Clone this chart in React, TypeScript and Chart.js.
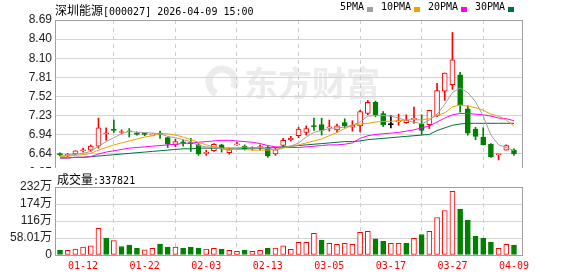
import React, { useEffect, useRef } from 'react';
import { Chart, registerables } from 'chart.js';

Chart.register(...registerables);

// ---- data ----
const dates = [
  '01-07','01-08','01-09','01-12','01-13','01-14','01-15','01-16','01-19','01-20',
  '01-21','01-22','01-23','01-26','01-27','01-28','01-29','01-30','02-02','02-03',
  '02-04','02-05','02-06','02-09','02-10','02-11','02-12','02-13','02-24','02-25',
  '02-26','02-27','03-02','03-03','03-04','03-05','03-06','03-09','03-10','03-11',
  '03-12','03-13','03-16','03-17','03-18','03-19','03-20','03-23','03-24','03-25',
  '03-26','03-27','03-30','03-31','04-01','04-02','04-03','04-07','04-08','04-09',
];
const opens = [
  6.64,6.62,6.64,6.69,6.70,6.76,6.95,7.02,6.97,6.99,
  6.96,6.95,6.93,6.96,6.89,6.78,6.82,6.81,6.78,6.65,
  6.69,6.78,6.66,6.78,6.76,6.72,6.74,6.74,6.64,6.77,
  6.86,6.92,6.97,7.07,7.09,7.04,7.01,7.12,7.05,7.07,
  7.26,7.43,7.26,7.09,7.13,7.12,7.17,7.10,7.09,7.23,
  7.60,7.70,7.85,7.33,7.02,6.90,6.79,6.63,6.70,6.70,
];
const closes = [
  6.63,6.63,6.69,6.70,6.76,7.04,6.96,7.00,6.98,6.98,
  6.94,6.94,6.94,6.94,6.79,6.83,6.81,6.80,6.64,6.66,
  6.79,6.72,6.71,6.79,6.72,6.73,6.75,6.61,6.71,6.85,
  6.88,7.02,7.03,7.06,7.00,7.05,7.07,7.07,7.08,7.29,
  7.43,7.24,7.09,7.09,7.15,7.16,7.18,7.00,7.31,7.61,
  7.88,8.08,7.39,6.96,6.91,6.78,6.60,6.64,6.77,6.64,
];
const highs = [
  6.66,6.65,6.69,6.73,6.78,7.19,7.04,7.16,7.01,7.03,
  6.98,6.96,6.95,6.99,6.90,6.87,6.86,6.88,6.80,6.70,
  6.80,6.79,6.73,6.82,6.78,6.75,6.78,6.76,6.73,6.88,
  6.91,7.05,7.07,7.19,7.19,7.16,7.10,7.18,7.15,7.31,
  7.46,7.45,7.29,7.23,7.25,7.24,7.36,7.24,7.31,7.72,
  7.88,8.50,7.89,7.38,7.05,7.04,6.80,6.64,6.78,6.72,
];
const lows = [
  6.61,6.60,6.63,6.67,6.68,6.73,6.85,6.97,6.95,6.90,
  6.93,6.92,6.93,6.88,6.74,6.75,6.76,6.68,6.62,6.62,
  6.68,6.67,6.64,6.77,6.70,6.70,6.70,6.59,6.62,6.74,
  6.84,6.89,6.93,7.00,6.93,6.99,6.98,7.04,6.99,6.98,
  7.24,7.21,7.06,7.04,7.08,7.11,7.11,6.94,7.03,7.21,
  7.46,7.63,7.28,6.93,6.86,6.78,6.59,6.55,6.70,6.62,
];
// volume in 万 (10k shares)
const volumes = [
  17,16,20,27,31,91,58,49,29,34,
  23,18,23,37,27,27,24,27,24,20,
  23,20,16,12.5,17,12.5,16,24,24,31,
  19,43,43,74,51,40,36,40,36,77,
  81,55,47,40,40,40,57,70,81,128,
  152,217,157,118,64,58,44,23,36,33.7821,
];
// 1 = red (hollow), 0 = green (filled)
const volumeUp = [
  0,1,1,1,1,1,0,1,0,0,
  0,1,1,0,0,1,0,0,0,1,
  1,0,1,1,0,1,1,0,1,1,
  1,1,1,1,0,1,1,1,1,1,
  1,0,0,1,1,0,1,0,1,1,
  1,1,0,0,0,0,0,1,1,0,
];
const ma5 = [
  6.61,6.62,6.64,6.65,6.68,6.76,6.83,6.89,6.95,6.99,
  6.97,6.97,6.96,6.95,6.91,6.89,6.86,6.83,6.77,6.75,
  6.74,6.72,6.70,6.73,6.75,6.73,6.74,6.72,6.70,6.73,
  6.76,6.81,6.90,6.97,7.00,7.03,7.04,7.05,7.08,7.13,
  7.22,7.23,7.23,7.22,7.19,7.15,7.13,7.10,7.16,7.25,
  7.40,7.58,7.65,7.58,7.44,7.22,6.93,6.78,6.74,6.69,
];
const ma10 = [
  6.60,6.61,6.62,6.63,6.65,6.70,6.74,6.78,6.81,6.84,
  6.87,6.90,6.92,6.95,6.95,6.93,6.90,6.86,6.82,6.78,
  6.75,6.73,6.72,6.71,6.71,6.70,6.70,6.70,6.71,6.74,
  6.76,6.78,6.81,6.84,6.87,6.92,6.97,7.03,7.08,7.10,
  7.11,7.13,7.14,7.14,7.15,7.16,7.17,7.16,7.18,7.23,
  7.27,7.36,7.39,7.37,7.35,7.31,7.25,7.22,7.16,7.07,
];
const ma20 = [
  6.58,6.58,6.59,6.59,6.60,6.64,6.67,6.69,6.71,6.73,
  6.74,6.75,6.76,6.77,6.78,6.79,6.80,6.81,6.82,6.83,
  6.84,6.85,6.85,6.84,6.83,6.82,6.80,6.77,6.75,6.74,
  6.74,6.74,6.75,6.76,6.77,6.78,6.78,6.79,6.81,6.88,
  6.92,6.94,6.95,6.96,6.97,6.99,7.01,7.04,7.07,7.13,
  7.19,7.24,7.26,7.26,7.25,7.24,7.22,7.19,7.18,7.15,
];
const ma30 = [
  6.58,6.58,6.59,6.59,6.60,6.61,6.62,6.63,6.64,6.65,
  6.66,6.67,6.68,6.69,6.70,6.71,6.72,6.72,6.73,6.73,
  6.73,6.73,6.73,6.73,6.73,6.73,6.73,6.73,6.74,6.75,
  6.76,6.77,6.78,6.79,6.80,6.81,6.82,6.83,6.83,6.84,
  6.86,6.87,6.88,6.89,6.90,6.91,6.92,6.93,6.94,7.00,
  7.04,7.08,7.10,7.11,7.11,7.11,7.11,7.11,7.11,7.11,
];
const priceTickValues = [6.35, 6.6425, 6.935, 7.2275, 7.52, 7.8125, 8.105, 8.3975, 8.69];
const priceTickLabels = ['6.35','6.64','6.94','7.23','7.52','7.81','8.10','8.40','8.69'];
const volTickValues = [0, 58.01, 116.02, 174.03, 232.04];
const volTickLabels = ['0','58.01万','116万','174万','232万'];
const dateTickIndex = [3, 11, 19, 27, 35, 43, 51, 59];
const maNames = ['5PMA', '10PMA', '20PMA', '30PMA'];
const maColors = ['#a0a0a0', '#f0a000', '#ff00ff', '#00703c'];

const RED = '#ff0000';
const GREEN = '#008000';
const X_MIN = -0.65;
const X_MAX = 60.04;
const MONO = '"DejaVu Sans Mono", "Liberation Mono", monospace';
const CJK = '"Noto Sans CJK SC", sans-serif';
const SANS = '"Liberation Sans", "Noto Sans CJK SC", sans-serif';

const makeX = (showLabels: boolean) => ({
  type: 'linear' as const,
  min: X_MIN,
  max: X_MAX,
  bounds: 'data' as const,
  offset: false,
  afterBuildTicks: (s: any) => {
    s.ticks = dateTickIndex.map((v) => ({ value: v }));
  },
  afterFit: (s: any) => {
    s.height = showLabels ? 21 : 0;
    s.paddingLeft = 0;
    s.paddingRight = 0;
  },
  grid: { color: '#cccccc', lineWidth: 1, drawTicks: false },
  border: { display: false, dash: [4, 4] },
  ticks: {
    display: showLabels,
    color: RED,
    font: { family: MONO, size: 10 },
    padding: 5,
    maxRotation: 0,
    autoSkip: false,
    callback: (v: any) => dates[v as number] ?? '',
  },
});

const borderPlugin = {
  id: 'frame',
  afterDraw(chart: any) {
    const { ctx, chartArea } = chart;
    ctx.save();
    ctx.strokeStyle = '#a0a0a0';
    ctx.lineWidth = 1;
    ctx.strokeRect(
      Math.round(chartArea.left) + 0.5,
      Math.round(chartArea.top) + 0.5,
      Math.round(chartArea.right - chartArea.left),
      Math.round(chartArea.bottom - chartArea.top)
    );
    ctx.restore();
  },
};

const watermarkPlugin = {
  id: 'watermark',
  beforeDraw(chart: any) {
    const { ctx } = chart;
    ctx.save();
    ctx.fillStyle = '#ececec';
    ctx.strokeStyle = '#ececec';
    ctx.lineWidth = 7;
    ctx.beginPath();
    ctx.arc(222, 82, 13, Math.PI * 0.65, Math.PI * 2.15);
    ctx.stroke();
    ctx.font = `bold 34px ${CJK}`;
    ctx.textBaseline = 'middle';
    ctx.fillText('东方财富', 244, 83);
    ctx.restore();
  },
};

export default function App() {
  const mainRef = useRef<HTMLCanvasElement>(null);
  const volRef = useRef<HTMLCanvasElement>(null);

  useEffect(() => {
    const dir = closes.map((c, i) => (c > opens[i] ? 1 : c < opens[i] ? -1 : 0));
    const col = dir.map((d) => (d > 0 ? RED : d < 0 ? GREEN : '#000000'));

    const maSets = [ma5, ma10, ma20, ma30].map((arr, k) => ({
      type: 'line' as const,
      label: maNames[k],
      data: arr.map((v, i) => ({ x: i, y: v })),
      borderColor: maColors[k],
      borderWidth: 1,
      pointRadius: 0,
      tension: 0,
      order: 0,
    }));

    const main = new Chart(mainRef.current!, {
      type: 'bar',
      data: {
        datasets: [
          ...maSets,
          {
            type: 'bar',
            label: 'body',
            data: opens.map((o, i) => ({ x: i, y: [o, closes[i]] })) as any,
            backgroundColor: dir.map((d, i) => (d > 0 ? '#ffffff' : col[i])),
            borderColor: col,
            borderWidth: 1,
            borderSkipped: false,
            barThickness: 5,
            minBarLength: 1,
            grouped: false,
            order: 1,
          },
          {
            type: 'bar',
            label: 'wick',
            data: lows.map((l, i) => ({ x: i, y: [l, highs[i]] })) as any,
            backgroundColor: col,
            borderWidth: 0,
            barThickness: 1,
            grouped: false,
            order: 2,
          },
        ] as any,
      },
      options: {
        responsive: false,
        animation: false,
        events: [],
        layout: { padding: { left: 0, right: 56, top: 20, bottom: 3 } },
        plugins: { legend: { display: false }, tooltip: { enabled: false } },
        scales: {
          x: makeX(false) as any,
          y: {
            type: 'linear',
            min: 6.35,
            max: 8.69,
            bounds: 'data',
            afterBuildTicks: (s: any) => {
              s.ticks = priceTickValues.map((v) => ({ value: v }));
            },
            afterFit: (s: any) => {
              s.width = 55;
              s.paddingTop = 0;
              s.paddingBottom = 0;
            },
            grid: { color: '#d4d4d4', drawTicks: false },
            border: { display: false },
            ticks: {
              color: '#222222',
              font: { family: SANS, size: 12 },
              padding: 3,
              autoSkip: false,
              callback: (_v: any, i: number) => priceTickLabels[i],
            },
          },
        },
      },
      plugins: [watermarkPlugin, borderPlugin],
    });

    const vol = new Chart(volRef.current!, {
      type: 'bar',
      data: {
        datasets: [
          {
            label: 'volume',
            data: volumes.map((v, i) => ({ x: i, y: v })) as any,
            backgroundColor: volumeUp.map((u) => (u ? '#ffffff' : GREEN)),
            borderColor: volumeUp.map((u) => (u ? RED : GREEN)),
            borderWidth: 1,
            borderSkipped: false,
            barThickness: 5,
            grouped: false,
          },
        ],
      },
      options: {
        responsive: false,
        animation: false,
        events: [],
        layout: { padding: { left: 0, right: 56, top: 19, bottom: 0 } },
        plugins: { legend: { display: false }, tooltip: { enabled: false } },
        scales: {
          x: makeX(true) as any,
          y: {
            type: 'linear',
            min: 0,
            max: 232.04,
            bounds: 'data',
            afterBuildTicks: (s: any) => {
              s.ticks = volTickValues.map((v) => ({ value: v }));
            },
            afterFit: (s: any) => {
              s.width = 55;
              s.paddingTop = 0;
              s.paddingBottom = 0;
            },
            grid: { color: '#d4d4d4', drawTicks: false },
            border: { display: false },
            ticks: {
              color: '#222222',
              font: { family: SANS, size: 12 },
              padding: 3,
              autoSkip: false,
              callback: (_v: any, i: number) => volTickLabels[i],
            },
          },
        },
      },
      plugins: [borderPlugin],
    });

    return () => {
      main.destroy();
      vol.destroy();
    };
  }, []);

  const legendX = [340, 381, 428, 475];
  const squareX = [367, 414, 461, 508];

  return (
    <div style={{ position: 'absolute', left: 0, top: 0, width: 578, height: 276, background: '#ffffff', overflow: 'hidden' }}>
      <canvas ref={mainRef} width={578} height={176} style={{ position: 'absolute', left: 0, top: 0 }} />
      <div style={{ position: 'absolute', left: 55, top: 1, lineHeight: '16px', whiteSpace: 'nowrap', color: '#000' }}>
        <span style={{ font: `12px ${CJK}` }}>深圳能源</span>
        <span style={{ font: `10px ${MONO}` }}>[000027] 2026-04-09 15:00</span>
      </div>
      {maNames.map((n, k) => (
        <React.Fragment key={n}>
          <div style={{ position: 'absolute', left: legendX[k], top: 1, lineHeight: '16px', font: `10px ${MONO}`, color: '#000', whiteSpace: 'nowrap' }}>{n}</div>
          <div style={{ position: 'absolute', left: squareX[k], top: 7, width: 6, height: 5, background: maColors[k] }} />
        </React.Fragment>
      ))}
      <div style={{ position: 'absolute', left: 0, top: 168, width: 578, height: 108, background: '#ffffff' }}>
        <canvas ref={volRef} width={578} height={108} style={{ position: 'absolute', left: 0, top: 0 }} />
        <div style={{ position: 'absolute', left: 57, top: 2, lineHeight: '16px', whiteSpace: 'nowrap', color: '#000' }}>
          <span style={{ font: `12px ${CJK}` }}>成交量</span>
          <span style={{ font: `10px ${MONO}` }}>:337821</span>
        </div>
      </div>
    </div>
  );
}
